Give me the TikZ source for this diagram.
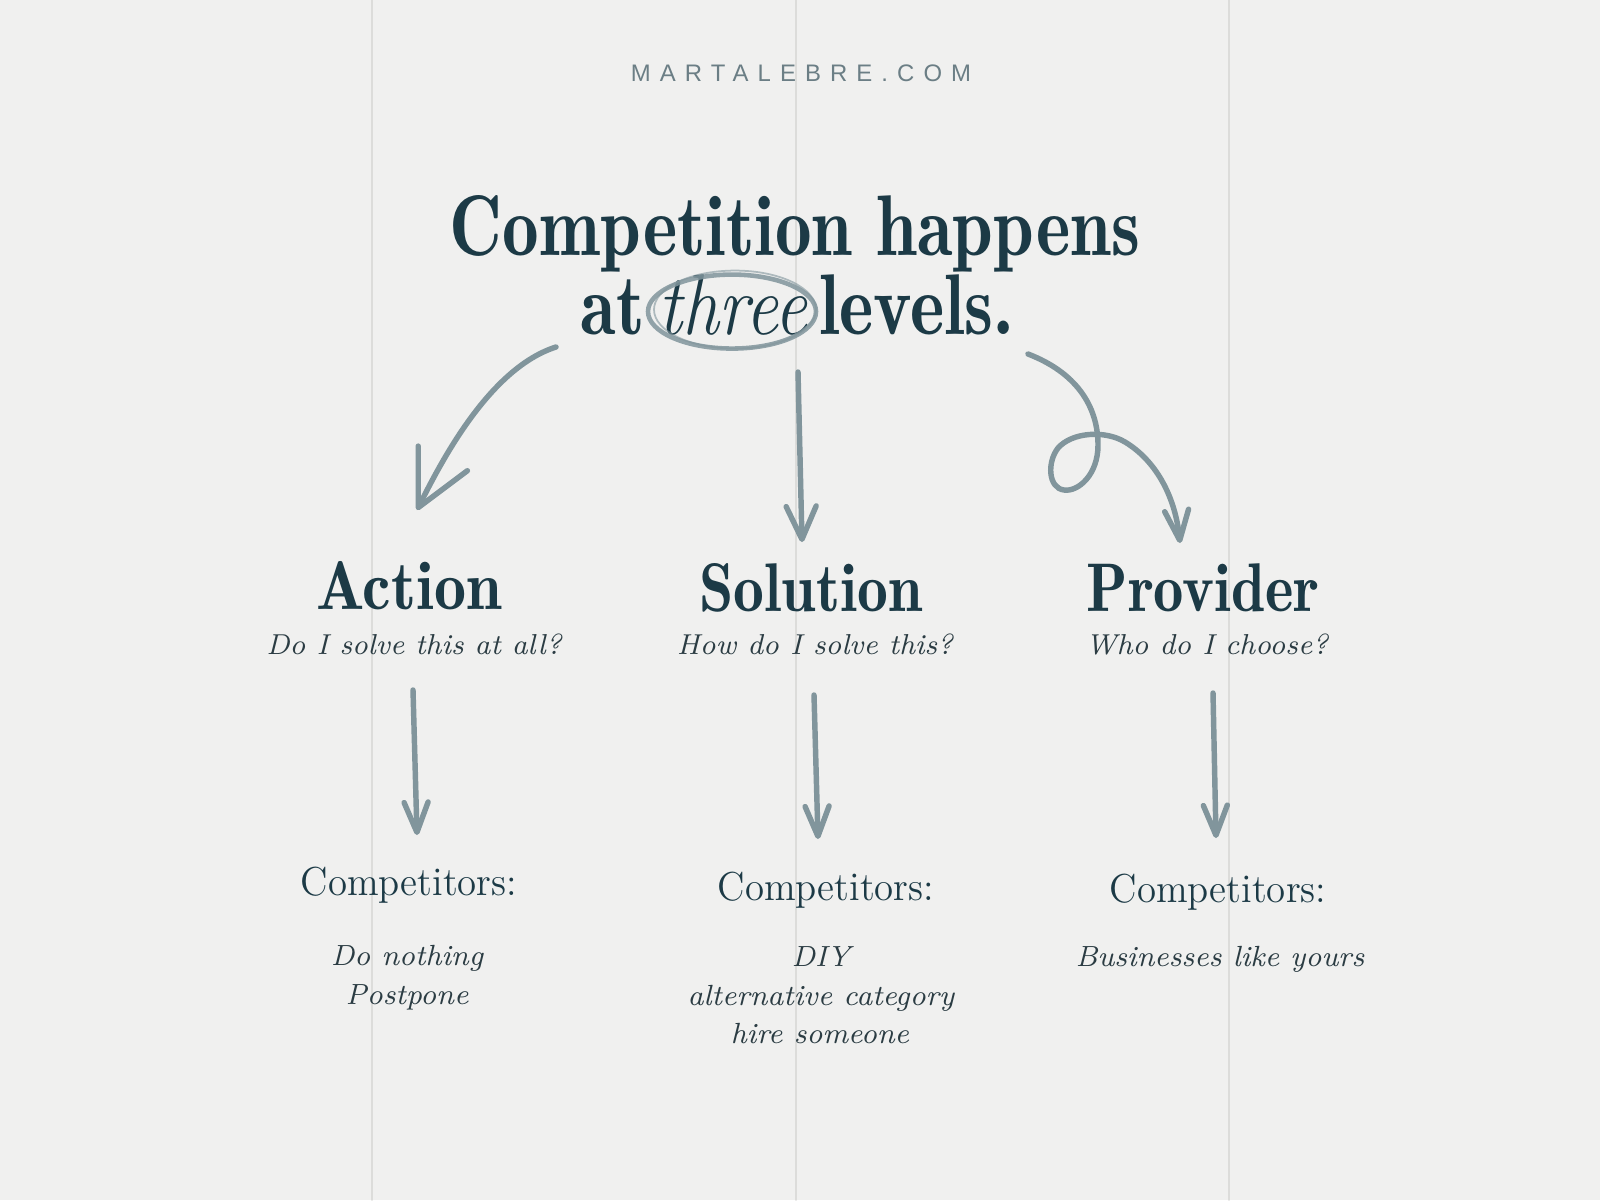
\documentclass[tikz,border=0pt]{standalone}
\usepackage{fontspec}
\usepackage{tikz}
\usetikzlibrary{arrows.meta,positioning}

\newfontfamily\sitefont[LetterSpace=38]{Liberation Sans}
\newfontfamily\demifont{lmromandemi10-regular.otf}
\newcommand{\narrowtext}[2][0.85]{\scalebox{#1}[1]{#2}}

\definecolor{paper}{HTML}{F0F0EF}
\definecolor{fold}{HTML}{DCDCDA}
\definecolor{ink}{HTML}{1C3A46}
\definecolor{pen}{HTML}{2B3C43}
\definecolor{pencil}{HTML}{81959C}
\definecolor{sitegray}{HTML}{6B7E85}

\begin{document}
\begin{tikzpicture}[line cap=round,>={Straight Barb[length=0.3cm,width=0.24cm,round]}]
	\tikzstyle{title} = [inner sep=0pt, anchor=base, text=ink, font=\fontsize{24.5}{28}\selectfont\demifont]
	\tikzstyle{level} = [inner sep=0pt, anchor=base, text=ink, font=\fontsize{19.6}{22}\selectfont\demifont]
	\tikzstyle{question} = [inner sep=0pt, anchor=base, text=pen, font=\fontsize{8.2}{10}\selectfont\itshape]
	\tikzstyle{comp} = [inner sep=0pt, anchor=base, text=ink, font=\fontsize{11.5}{13}\selectfont]
	\tikzstyle{answer} = [inner sep=0pt, anchor=base, text=pen, font=\fontsize{8.3}{10}\selectfont\itshape]
	\tikzstyle{stroke} = [draw=pencil, line width=1.55pt]

	\fill [paper] (0,0) rectangle (16,-12);
	\useasboundingbox (0,0) rectangle (16,-12);
	\foreach \x in {3.72,7.96,12.29}
		\draw [fold, line width=0.45pt] (\x,0) -- (\x,-12);

	\node [inner sep=0pt, text=sitegray, font=\fontsize{6.8}{8}\selectfont\sitefont] (site) at (8.01,-0.735) {MARTALEBRE.COM};

	\node [title] (head1) at (7.95,-2.55) {\narrowtext{Competition happens}};
	\node [title] (three) at (7.33,-3.34) {\narrowtext{\normalfont\itshape three}};
	\node [title, base left=0.12cm of three] (at) {\narrowtext{at}};
	\node [title, base right=0.1cm of three] (levels) {\narrowtext{levels.}};
	\draw [pencil, line width=1.3pt, opacity=0.85] (three.center) ++(-0.01,-0.07) ellipse [x radius=0.84cm, y radius=0.37cm];
	\draw [pencil, line width=0.5pt, opacity=0.6] (three.center) ++(0.02,-0.05) ellipse [x radius=0.81cm, y radius=0.39cm];

	\node [level] (action) at (4.09,-6.09) {\narrowtext[0.93]{Action}};
	\node [level] (solution) at (8.11,-6.11) {\narrowtext[0.895]{Solution}};
	\node [level] (provider) at (12.03,-6.11) {\narrowtext[0.88]{Provider}};

	\node [question] (qaction) at (4.14,-6.54) {Do I solve this at all?};
	\node [question] (qsolution) at (8.15,-6.54) {How do I solve this?};
	\node [question] (qprovider) at (12.07,-6.54) {Who do I choose?};

	\node [comp] (compA) at (4.09,-8.95) {\narrowtext[0.96]{Competitors:}};
	\node [comp] (compS) at (8.26,-9.00) {\narrowtext[0.96]{Competitors:}};
	\node [comp] (compP) at (12.18,-9.02) {\narrowtext[0.96]{Competitors:}};

	\node [answer] (nothing) at (4.07,-9.65) {Do nothing};
	\node [answer] (postpone) at (4.07,-10.04) {Postpone};
	\node [answer] (diy) at (8.21,-9.66) {DIY};
	\node [answer] (altcat) at (8.21,-10.05) {alternative category};
	\node [answer] (hire) at (8.20,-10.43) {hire someone};
	\node [answer] (yours) at (12.20,-9.66) {Businesses like yours};

	\node [coordinate] (c1) at (5.56,-3.47) {};
	\node [coordinate] (c2) at (4.17,-5.10) {};
	\node [coordinate] (c3) at (7.98,-3.72) {};
	\node [coordinate] (c4) at (8.02,-5.42) {};
	\node [coordinate] (c5) at (10.28,-3.54) {};
	\node [coordinate] (c6) at (11.80,-5.43) {};
	\node [coordinate] (c7) at (4.13,-6.90) {};
	\node [coordinate] (c8) at (4.17,-8.35) {};
	\node [coordinate] (c9) at (8.14,-6.95) {};
	\node [coordinate] (c10) at (8.18,-8.39) {};
	\node [coordinate] (c11) at (12.13,-6.93) {};
	\node [coordinate] (c12) at (12.16,-8.38) {};

	\draw [stroke, ->, >={Straight Barb[length=0.55cm,width=0.55cm,round]}] (c1) .. controls (4.9,-3.68) and (4.42,-4.6) .. (c2);
	\draw [stroke, ->, >={Straight Barb[length=0.33cm,width=0.3cm,round]}] (c3) -- (c4);
	\draw [stroke, ->] (c5) .. controls (10.75,-3.72) and (10.98,-4.05) .. (10.98,-4.45)
		.. controls (10.98,-4.75) and (10.78,-4.92) .. (10.64,-4.90)
		.. controls (10.48,-4.88) and (10.47,-4.62) .. (10.58,-4.48)
		.. controls (10.72,-4.32) and (11.05,-4.30) .. (11.25,-4.42)
		.. controls (11.55,-4.60) and (11.75,-4.95) .. (c6);
	\draw [stroke, ->] (c7) -- (c8);
	\draw [stroke, ->] (c9) -- (c10);
	\draw [stroke, ->] (c11) -- (c12);

\end{tikzpicture}
\end{document}
